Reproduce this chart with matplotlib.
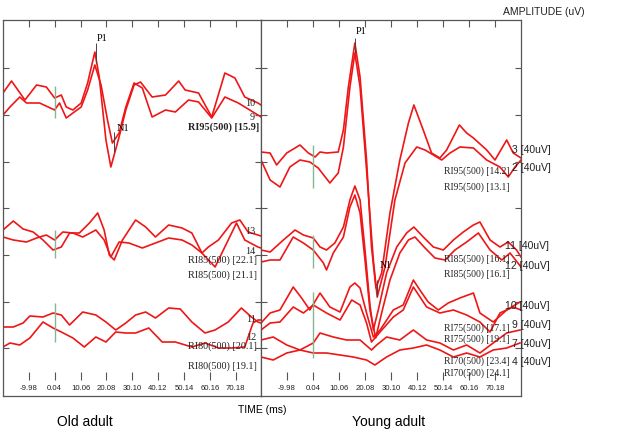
import matplotlib.pyplot as plt
import numpy as np

# ---- tick labels (time axis, ms)
time_ticks = [-9.98, 0.04, 10.06, 20.08, 30.10, 40.12, 50.14, 60.16, 70.18]
time_tick_labels = ["-9.98", "0.04", "10.06", "20.08", "30.10", "40.12", "50.14", "60.16", "70.18"]

# ---- Old adult waveforms (ms, amplitude)
old95_10_t = [-20, -16.7, -11.5, -7.0, -3.2, 0.0, 2.6, 4.5, 7.1, 10.3, 12.8, 15.6, 17.3, 19.9, 21.8, 25.0, 27.6,
              30.8, 33.3, 37.8, 43.0, 48.1, 50.6, 55.8, 60.9, 66.0, 69.9, 73.7, 78.8, 80]
old95_10_uv = [7, 19, 0, 15, 13, 2, 5, -7, -10, -3, 17, 48, 23, -40, -67, -37, -10,
               15, 18, 3, 5, 19, 10, 7, -17, 27, 22, 3, -3, -5]
old95_9_t = [-20, -17.3, -13.5, -10.9, -5.8, 0.0, 1.9, 4.5, 7.1, 10.3, 12.8, 15.6, 18.0, 20.5, 22.4, 25.0, 27.6,
             30.8, 34.0, 37.8, 43.0, 46.8, 51.9, 55.8, 60.9, 66.0, 71.2, 78.8, 80]
old95_9_uv = [-15, -7, 3, -3, -3, -10, -3, -18, -13, -7, 10, 35, 15, -20, -43, -33, -7,
              17, 12, -17, -10, -12, 0, -2, -18, 3, -3, -15, -17]

old85_13_t = [-20, -16.0, -12.2, -8.3, -4.5, -0.6, 2.6, 5.8, 9.6, 13.5, 16.7, 19.2, 21.2, 23.1, 26.3, 31.4,
              35.3, 39.1, 44.2, 49.4, 53.2, 57.1, 59.6, 63.5, 68.6, 71.8, 75.0, 78.8, 80]
old85_13_uv = [10, 19, 11, 8, 0, -10, -7, 7, 7, 17, 27, 10, -15, -20, 0, 20,
               13, 3, 15, 12, 7, -13, -7, 0, 17, 20, 8, 5, 4]
old85_14_t = [-20, -16.0, -10.9, -7.0, -3.2, 0.0, 3.2, 7.1, 10.9, 16.0, 19.2, 21.8, 25.0, 28.8, 34.0, 39.1,
              44.2, 49.4, 53.2, 57.1, 62.2, 67.3, 70.5, 73.7, 78.8, 80]
old85_14_uv = [3, 0, -2, 2, 5, 0, 8, 7, 3, 10, 0, -17, -2, -3, -8, -3,
               2, 0, -5, -13, -27, 0, 17, 0, -7, -8]

old80_11_t = [-20, -16.0, -12.2, -9.6, -4.5, -0.6, 2.6, 5.8, 10.9, 16.0, 19.9, 23.7, 27.6, 31.4, 35.3, 39.1,
              44.2, 48.7, 53.2, 58.3, 62.2, 67.3, 72.4, 76.3, 78.8, 80]
old80_11_uv = [3, 3, 7, 14, 13, 17, 15, 5, 18, 15, 8, 0, 7, 15, 18, 12,
               22, 21, 8, -3, 0, 8, 22, 13, 8, 7]
old80_12_t = [-20, -17.3, -13.5, -9.6, -4.5, -0.6, 2.6, 7.1, 11.5, 16.0, 19.9, 23.7, 27.6, 31.4, 36.5, 41.7,
              46.8, 53.2, 58.3, 63.5, 68.6, 73.7, 76.9, 78.8, 80]
old80_12_uv = [-17, -13, -15, -8, 8, 2, -2, -8, -17, -7, -12, -2, -3, -3, 2, -12,
               -12, -17, -13, -18, -18, -17, 7, 10, 10]

# ---- Young adult waveforms
young95_3_t = [-20, -16.5, -14.0, -10.1, -5.0, -1.8, 0.8, 2.7, 5.2, 9.7, 11.7, 13.6, 16.1, 18.1, 20.6, 22.5,
               24.2, 26.4, 29.6, 33.4, 36.7, 38.8, 42.4, 45.6, 48.8, 51.4, 56.3, 59.1, 61.7, 66.8, 70.0,
               74.5, 77.0, 80]
young95_3_uv = [3, 2, -10, 2, 10, 2, -2, 3, 2, 3, 25, 68, 112, 78, -5, -92,
                -133, -118, -58, -5, 32, 50, 25, 2, -3, 5, 30, 22, 17, 5, -5,
                15, 2, -3]
young95_2_t = [-20, -16.5, -12.7, -8.9, -5.0, -1.2, 2.0, 6.5, 9.7, 11.7, 14.2, 16.1, 18.1, 20.6, 23.2, 24.7,
               27.7, 31.5, 35.4, 39.9, 43.1, 46.3, 49.5, 52.7, 56.5, 61.7, 66.8, 71.9, 75.1, 77.7, 80]
young95_2_uv = [-5, -25, -32, -12, -5, -7, -13, -28, -18, 8, 68, 102, 68, -15, -105, -142,
                -112, -45, -8, 8, 5, 0, -5, 2, 8, 7, -5, -12, -22, -12, -5]

young85_11_t = [-20, -16.5, -11.4, -6.9, -3.7, 0.1, 2.7, 5.2, 8.4, 11.7, 14.2, 16.1, 18.1, 20.0, 21.9, 23.2,
                25.1, 28.3, 32.2, 36.0, 38.8, 42.4, 46.3, 50.1, 54.0, 57.8, 61.7, 64.2, 68.1, 71.9, 75.1,
                78.3, 80]
young85_11_uv = [5, 3, 15, 25, 20, 17, 8, 5, 12, 28, 55, 69, 55, 5, -50, -75,
                 -55, -18, 8, 22, 28, 18, 8, 5, 15, 23, 30, 33, 15, 8, 13,
                 5, -2]
young85_12_t = [-20, -16.5, -12.7, -7.6, -3.7, 0.1, 4.0, 5.2, 7.8, 11.7, 14.2, 16.1, 18.1, 20.0, 21.9, 24.1,
                26.4, 29.6, 33.4, 36.7, 39.2, 43.1, 46.9, 50.8, 54.6, 59.1, 63.6, 68.1, 72.6, 75.8, 80]
young85_12_uv = [-7, -5, -5, 18, 12, 5, -8, -15, 2, 18, 48, 60, 42, -5, -55, -83,
                 -58, -25, 2, 15, 18, 7, -3, -5, 5, 13, 22, 5, -5, 2, -12]

young75_10_t = [-20, -16.5, -12.7, -7.6, -4.4, -1.2, 2.7, 6.5, 10.4, 14.2, 16.1, 18.1, 20.6, 23.2, 25.8, 30.9,
                34.7, 38.6, 41.1, 44.3, 48.2, 52.0, 56.5, 61.7, 64.2, 69.3, 74.5, 79.6, 80]
young75_10_uv = [-3, 7, 10, 33, 22, 10, 27, 13, 8, 33, 37, 32, 7, -17, -10, 10,
                 15, 40, 30, 18, 10, 17, 22, 27, 7, -2, 10, 18, 18]
young75_9_t = [-20, -16.5, -12.7, -7.6, -3.7, 0.1, 5.2, 10.4, 14.9, 18.1, 20.6, 22.5, 25.8, 30.9, 34.7, 38.6,
               43.7, 48.8, 54.0, 59.1, 64.2, 68.1, 71.9, 77.0, 80]
young75_9_uv = [-10, -3, -2, 13, 7, 15, 7, 0, 20, 15, -3, -22, -12, 3, 10, 33,
                13, 7, 10, 5, -2, -12, 7, 13, 10]

young70_7_t = [-20, -15.3, -10.1, -5.0, 0.1, 2.7, 7.8, 12.9, 18.1, 22.5, 24.5, 28.3, 33.4, 38.6, 43.7, 48.8,
               54.0, 59.1, 64.2, 69.3, 74.5, 79.6]
young70_7_uv = [10, 13, 5, 0, 7, 17, 13, 10, 10, 0, 5, 13, 10, 20, 10, 7,
                0, 5, -3, 7, 17, 20]
young70_4_t = [-20, -15.3, -10.1, -5.0, 0.1, 5.2, 10.4, 15.5, 20.6, 23.8, 28.3, 33.4, 38.6, 43.7, 48.8,
               54.0, 59.1, 64.2, 69.3, 74.5, 79.6]
young70_4_uv = [-7, -10, -3, 0, -3, -3, -5, -7, -10, -15, -7, 0, 2, 5, 0,
                -7, -3, -7, 0, 2, 7]

# ---- layout (pixel based)
W, H = 618, 442
TOP, BOT = 20, 396
RED = "#ee1616"
FRAME = "#555555"
GREEN = "#86b592"
SERIF = "Liberation Serif"
SANS = "Liberation Sans"

fig = plt.figure(figsize=(W / 100, H / 100), dpi=100)
ax_old = fig.add_axes([3 / W, (H - BOT) / H, 258 / W, (BOT - TOP) / H])
ax_young = fig.add_axes([261 / W, (H - BOT) / H, 260 / W, (BOT - TOP) / H])

for ax in (ax_old, ax_young):
    ax.set_xlim(-20, 80)
    ax.set_ylim(BOT, TOP)
    ax.set_xticks(time_ticks)
    ax.set_yticks([68, 115, 162, 208, 255, 302, 348])
    ax.tick_params(axis="x", direction="in", top=True, bottom=False, length=5, width=0.8,
                   color=FRAME, labelbottom=False)
    ax.tick_params(axis="y", direction="in", left=True, right=True, length=4, width=0.8,
                   color=FRAME, labelleft=False)
    for s in ax.spines.values():
        s.set_color(FRAME)
        s.set_linewidth(0.9)
    # floating ticks + labels under the traces
    ax.vlines(time_ticks, 372, 380, color=FRAME, lw=0.8, clip_on=False)
    for tv, lab in zip(time_ticks, time_tick_labels):
        ax.text(tv, 388, lab, ha="center", va="center", fontsize=5.6, family=SANS, color="#222222")


def trace(ax, t, uv, base):
    ax.plot(t, base - np.array(uv), color=RED, lw=1.2)


# old adult
trace(ax_old, old95_10_t, old95_10_uv, 100)
trace(ax_old, old95_9_t, old95_9_uv, 100)
trace(ax_old, old85_13_t, old85_13_uv, 240)
trace(ax_old, old85_14_t, old85_14_uv, 240)
trace(ax_old, old80_11_t, old80_11_uv, 330)
trace(ax_old, old80_12_t, old80_12_uv, 330)

# young adult
trace(ax_young, young95_3_t, young95_3_uv, 155)
trace(ax_young, young95_2_t, young95_2_uv, 155)
trace(ax_young, young85_11_t, young85_11_uv, 255)
trace(ax_young, young85_12_t, young85_12_uv, 255)
trace(ax_young, young75_10_t, young75_10_uv, 320)
trace(ax_young, young75_9_t, young75_9_uv, 320)
trace(ax_young, young70_7_t, young70_7_uv, 350)
trace(ax_young, young70_4_t, young70_4_uv, 350)

# stimulus onset markers
for y0, y1 in [(86, 118), (230, 258), (303, 342)]:
    ax_old.vlines(0.04, y0, y1, color=GREEN, lw=1.0)
for y0, y1 in [(145, 188), (235, 268), (292, 358)]:
    ax_young.vlines(0.04, y0, y1, color=GREEN, lw=1.0)

# peak markers
ax_old.vlines(16.0, 43, 63, color="#444444", lw=0.7)
ax_old.text(16.3, 38, "P1", fontsize=7.5, family=SERIF, va="center")
ax_old.vlines(23.0, 132, 152, color="#444444", lw=0.7)
ax_old.text(24.0, 128, "N1", fontsize=7.5, family=SERIF, va="center")
ax_young.vlines(16.1, 38, 53, color="#444444", lw=0.7)
ax_young.text(16.6, 31, "P1", fontsize=7.5, family=SERIF, va="center")
ax_young.vlines(24.6, 280, 297, color="#444444", lw=0.7)
ax_young.text(25.6, 265, "N1", fontsize=7, family=SERIF, va="center")


def label(x, y, s, fam=SERIF, size=7.3, **kw):
    fig.text(x / W, 1 - y / H, s, fontsize=size, family=fam, va="center", ha="left", color="#222222", **kw)


# old adult labels
label(245, 103, "10")
label(250, 118, "9")
label(188, 127, "RI95(500) [15.9]", weight="bold")
label(245, 232, "13")
label(245, 252, "14")
label(188, 260, "RI85(500) [22.1]")
label(188, 275, "RI85(500) [21.1]")
label(246, 320, "11")
label(246, 338, "12")
label(188, 346, "RI80(500) [20.1]")
label(188, 366, "RI80(500) [19.1]")

# young adult labels
for y, s in [(171, "RI95(500) [14.2]"), (187, "RI95(500) [13.1]"), (259, "RI85(500) [16.1]"),
             (274, "RI85(500) [16.1]"), (328, "RI75(500) [17.1]"), (339, "RI75(500) [19.1]"),
             (361, "RI70(500) [23.4]"), (373, "RI70(500) [24.1]")]:
    label(444, y, s, size=6.9)
for x, y, s in [(512, 150, "3 [40uV]"), (512, 168, "2 [40uV]"), (505, 246, "11 [40uV]"),
                (505, 266, "12 [40uV]"), (505, 306, "10 [40uV]"), (512, 325, "9 [40uV]"),
                (512, 344, "7 [40uV]"), (512, 362, "4 [40uV]")]:
    label(x, y, s, fam=SANS, size=7.5)

# axis titles and group names
label(503, 12, "AMPLITUDE (uV)", fam=SANS, size=7.5)
fig.text(262 / W, 1 - 410 / H, "TIME (ms)", fontsize=7.5, family=SANS, ha="center", va="center")
fig.text(85 / W, 1 - 422 / H, "Old adult", fontsize=10, family=SANS, ha="center", va="center")
fig.text(389 / W, 1 - 422 / H, "Young adult", fontsize=10, family=SANS, ha="center", va="center")

fig.savefig("out.png", dpi=100)
